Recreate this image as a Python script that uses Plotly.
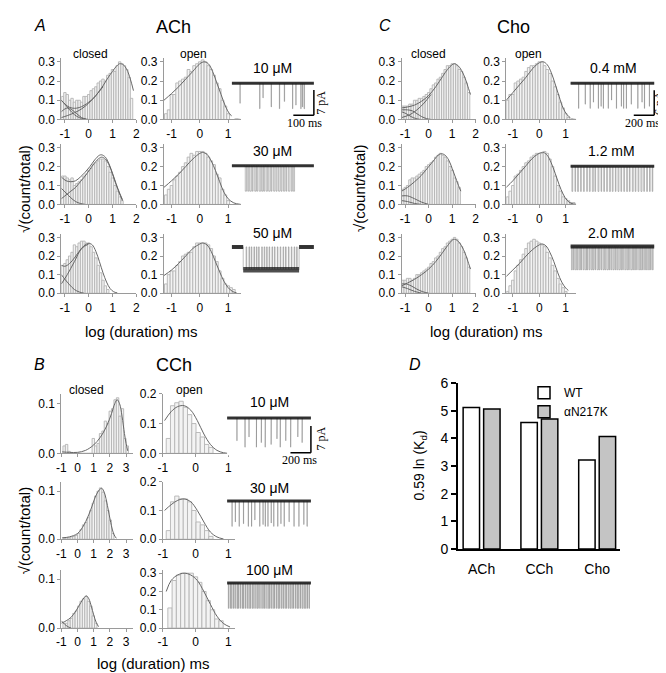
import plotly.graph_objects as go

W, H = 666, 673
SANS = "Liberation Sans"
SERIF = "Liberation Serif"

# ============================ DATA ============================
# Dwell-time histograms: sqrt(count/total) per log10(duration/ms) bin
A_CLOSED_BIN0, A_CLOSED_BW = -1.15, 0.1
A_OPEN_BIN0, A_OPEN_BW = -1.25, 0.1
C_CLOSED_BIN0, C_CLOSED_BW = -1.15, 0.1
C_OPEN_BIN0, C_OPEN_BW = -1.25, 0.1
B_CLOSED_BIN0, B_CLOSED_BW = -0.9, 0.15
B_OPEN_BIN0, B_OPEN_BW = -0.9, 0.13
B3_OPEN_BIN0 = -0.85

# ---- Panel A: ACh ----
ACh10_closed = [0.12, 0.14, 0.13, 0.10, 0.11, 0.09, 0.10, 0.10, 0.09, 0.12, 0.12, 0.13, 0.15, 0.16, 0.17,
                0.19, 0.20, 0.21, 0.20, 0.23, 0.24, 0.26, 0.25, 0.28, 0.30, 0.29, 0.28, 0.26, 0.22, 0.11]
ACh10_open = [0.03, 0.05, 0.13, 0.13, 0.19, 0.20, 0.21, 0.22, 0.26, 0.25, 0.28, 0.29, 0.30, 0.31, 0.30,
              0.28, 0.26, 0.23, 0.19, 0.16, 0.10, 0.07, 0.03]
ACh30_closed = [0.15, 0.15, 0.14, 0.13, 0.14, 0.10, 0.11, 0.12, 0.13, 0.15, 0.16, 0.18, 0.19, 0.21, 0.22,
                0.23, 0.24, 0.24, 0.23, 0.20, 0.17, 0.14, 0.10, 0.07, 0.04, 0.02]
ACh30_open = [0.05, 0.08, 0.10, 0.13, 0.15, 0.17, 0.20, 0.22, 0.25, 0.27, 0.26, 0.28, 0.28, 0.28, 0.27,
              0.25, 0.23, 0.21, 0.16, 0.14, 0.08, 0.05, 0.02]
ACh50_closed = [0.15, 0.16, 0.18, 0.20, 0.22, 0.26, 0.25, 0.27, 0.28, 0.28, 0.27, 0.27, 0.25, 0.22, 0.19,
                0.15, 0.11, 0.07, 0.04, 0.02]
ACh50_open = [0.05, 0.10, 0.12, 0.12, 0.15, 0.17, 0.20, 0.21, 0.22, 0.22, 0.25, 0.27, 0.27, 0.27, 0.27,
              0.26, 0.24, 0.20, 0.17, 0.12, 0.08, 0.05, 0.04, 0.03, 0.02]

ACh10_closed_fits = [
    ([-1.15, -1.0, -0.8, -0.6, -0.4, -0.2, 0, 0.2, 0.4, 0.6, 0.8, 1.0, 1.15, 1.3, 1.45, 1.6, 1.75, 1.88],
     [0.10, 0.08, 0.063, 0.058, 0.062, 0.073, 0.09, 0.11, 0.14, 0.175, 0.215, 0.25, 0.275, 0.29, 0.285, 0.26, 0.21, 0.15]),
    ([-1.15, -1.0, -0.8, -0.6, -0.4, -0.2, 0], [0.10, 0.08, 0.05, 0.025, 0.01, 0.003, 0.0]),
    ([-1.15, -1.0, -0.85, -0.7, -0.5, -0.3, -0.1], [0.04, 0.055, 0.06, 0.05, 0.03, 0.01, 0.002]),
    ([-1.15, -0.9, -0.6, -0.3, 0, 0.3, 0.6], [0.01, 0.02, 0.035, 0.055, 0.085, 0.125, 0.17]),
]
ACh10_open_fits = [
    ([-1.27, -1.0, -0.75, -0.5, -0.25, 0, 0.15, 0.3, 0.45, 0.6, 0.75, 0.9, 1.05, 1.2, 1.45],
     [0.10, 0.135, 0.17, 0.21, 0.25, 0.29, 0.30, 0.29, 0.25, 0.19, 0.13, 0.07, 0.03, 0.01, 0.0]),
]
ACh30_closed_fits = [
    ([-1.15, -0.95, -0.75, -0.55, -0.35, -0.15, 0.05, 0.25, 0.45, 0.55, 0.7, 0.85, 1.0, 1.15, 1.3, 1.42],
     [0.145, 0.125, 0.12, 0.125, 0.145, 0.17, 0.20, 0.235, 0.26, 0.262, 0.25, 0.215, 0.165, 0.11, 0.06, 0.025]),
    ([-1.15, -0.95, -0.75, -0.55, -0.35, -0.15, 0.05, 0.25, 0.45, 0.55, 0.7, 0.85, 1.0, 1.15, 1.3, 1.42],
     [0.03, 0.05, 0.07, 0.09, 0.12, 0.15, 0.185, 0.22, 0.245, 0.25, 0.24, 0.21, 0.16, 0.105, 0.055, 0.02]),
    ([-1.15, -0.95, -0.75, -0.55, -0.35, -0.15], [0.085, 0.06, 0.035, 0.015, 0.005, 0.0]),
]
ACh30_open_fits = [
    ([-1.27, -1.0, -0.75, -0.5, -0.25, 0, 0.1, 0.25, 0.4, 0.55, 0.7, 0.85, 1.0, 1.2, 1.45],
     [0.09, 0.125, 0.16, 0.20, 0.24, 0.27, 0.275, 0.265, 0.23, 0.18, 0.12, 0.065, 0.03, 0.008, 0.0]),
]
ACh50_closed_fits = [
    ([-1.15, -1.0, -0.8, -0.6, -0.4, -0.2, 0, 0.15, 0.3, 0.45, 0.6, 0.75, 0.9, 1.05, 1.2],
     [0.15, 0.145, 0.16, 0.19, 0.225, 0.255, 0.268, 0.26, 0.225, 0.17, 0.11, 0.06, 0.025, 0.008, 0.002]),
    ([-1.15, -1.0, -0.8, -0.6, -0.4, -0.2], [0.10, 0.075, 0.045, 0.02, 0.007, 0.0]),
    ([-1.15, -0.9, -0.6, -0.3, 0], [0.05, 0.10, 0.17, 0.24, 0.265]),
]
ACh50_open_fits = [
    ([-1.27, -1.0, -0.75, -0.5, -0.25, 0, 0.1, 0.25, 0.4, 0.55, 0.7, 0.85, 1.0, 1.15, 1.3],
     [0.095, 0.125, 0.16, 0.20, 0.24, 0.265, 0.27, 0.26, 0.225, 0.17, 0.115, 0.065, 0.03, 0.01, 0.002]),
]

# ---- Panel C: Cho ----
Cho04_closed = [0.07, 0.07, 0.07, 0.08, 0.08, 0.10, 0.10, 0.11, 0.11, 0.12, 0.13, 0.14, 0.16, 0.18, 0.19,
                0.21, 0.22, 0.24, 0.26, 0.28, 0.28, 0.29, 0.29, 0.28, 0.26, 0.25, 0.22, 0.19, 0.14]
Cho04_open = [0.10, 0.13, 0.13, 0.19, 0.20, 0.21, 0.22, 0.25, 0.27, 0.28, 0.28, 0.29, 0.30, 0.30, 0.28,
              0.26, 0.24, 0.20, 0.17, 0.13, 0.09, 0.06, 0.03, 0.01]
Cho12_closed = [0.08, 0.09, 0.10, 0.13, 0.14, 0.14, 0.15, 0.16, 0.17, 0.18, 0.20, 0.21, 0.22, 0.23, 0.25,
                0.26, 0.27, 0.26, 0.25, 0.23, 0.20, 0.18, 0.14, 0.12, 0.09]
Cho12_open = [0.04, 0.07, 0.10, 0.15, 0.16, 0.18, 0.20, 0.22, 0.23, 0.25, 0.26, 0.27, 0.27, 0.27, 0.28,
              0.27, 0.24, 0.20, 0.15, 0.10, 0.07, 0.04, 0.03, 0.02, 0.01, 0.01]
Cho20_closed = [0.07, 0.07, 0.08, 0.08, 0.07, 0.08, 0.10, 0.10, 0.11, 0.12, 0.13, 0.14, 0.16, 0.17, 0.19,
                0.20, 0.22, 0.24, 0.25, 0.27, 0.28, 0.29, 0.30, 0.29, 0.27, 0.25, 0.22, 0.19, 0.14]
Cho20_open = [0.01, 0.04, 0.07, 0.12, 0.15, 0.18, 0.21, 0.24, 0.27, 0.28, 0.29, 0.28, 0.27, 0.26, 0.25,
              0.22, 0.19, 0.15, 0.12, 0.08, 0.05, 0.03, 0.01]

Cho04_closed_fits = [
    ([-1.15, -0.9, -0.6, -0.3, 0, 0.3, 0.6, 0.8, 1.0, 1.1, 1.25, 1.4, 1.55, 1.7, 1.78],
     [0.06, 0.065, 0.075, 0.095, 0.125, 0.17, 0.225, 0.26, 0.285, 0.29, 0.28, 0.255, 0.215, 0.16, 0.13]),
    ([-1.15, -0.9, -0.7, -0.5, -0.3, -0.1, 0.1], [0.05, 0.05, 0.045, 0.03, 0.015, 0.005, 0.0]),
    ([-1.15, -0.95, -0.75, -0.55, -0.35], [0.04, 0.03, 0.015, 0.005, 0.0]),
    ([-1.15, -0.8, -0.5, -0.2, 0.1], [0.01, 0.025, 0.05, 0.085, 0.13]),
]
Cho04_open_fits = [
    ([-1.25, -1.0, -0.75, -0.5, -0.25, 0, 0.15, 0.3, 0.45, 0.6, 0.75, 0.9, 1.05, 1.2, 1.4],
     [0.10, 0.14, 0.18, 0.22, 0.265, 0.295, 0.30, 0.285, 0.245, 0.185, 0.12, 0.06, 0.025, 0.007, 0.0]),
]
Cho12_closed_fits = [
    ([-1.15, -0.9, -0.6, -0.3, 0, 0.2, 0.4, 0.55, 0.7, 0.85, 1.0, 1.15, 1.3, 1.37],
     [0.07, 0.09, 0.12, 0.155, 0.20, 0.23, 0.26, 0.268, 0.26, 0.235, 0.19, 0.14, 0.09, 0.07]),
    ([-1.15, -0.9, -0.6, -0.3, 0], [0.045, 0.045, 0.03, 0.012, 0.0]),
    ([-1.15, -0.9, -0.6, -0.3], [0.02, 0.015, 0.005, 0.0]),
]
Cho12_open_fits = [
    ([-1.25, -1.0, -0.75, -0.5, -0.25, 0, 0.15, 0.3, 0.45, 0.6, 0.75, 0.9, 1.05, 1.2, 1.4],
     [0.09, 0.125, 0.165, 0.205, 0.245, 0.27, 0.275, 0.26, 0.22, 0.165, 0.105, 0.055, 0.022, 0.006, 0.0]),
]
Cho20_closed_fits = [
    ([-1.15, -0.9, -0.6, -0.3, 0, 0.3, 0.6, 0.8, 1.0, 1.1, 1.25, 1.4, 1.55, 1.7, 1.78],
     [0.04, 0.055, 0.075, 0.10, 0.13, 0.17, 0.22, 0.255, 0.285, 0.29, 0.28, 0.255, 0.215, 0.16, 0.13]),
    ([-1.15, -0.95, -0.75, -0.5, -0.25, 0], [0.05, 0.05, 0.04, 0.022, 0.008, 0.0]),
    ([-1.15, -0.9, -0.6, -0.3], [0.035, 0.025, 0.01, 0.0]),
]
Cho20_open_fits = [
    ([-1.25, -1.0, -0.75, -0.5, -0.25, 0, 0.1, 0.25, 0.4, 0.55, 0.7, 0.85, 1.0, 1.1],
     [0.09, 0.125, 0.16, 0.20, 0.235, 0.26, 0.265, 0.255, 0.22, 0.17, 0.11, 0.06, 0.028, 0.015]),
]

# ---- Panel B: CCh ----
CCh10_closed = [0.015, 0.018, 0.004, 0, 0, 0, 0, 0, 0, 0, 0, 0, 0.03, 0.015, 0.02, 0.04, 0.045, 0.065,
                0.06, 0.085, 0.09, 0.108, 0.112, 0.075, 0.09, 0.03, 0.015]
CCh10_open = [0.05, 0.16, 0.17, 0.175, 0.155, 0.13, 0.10, 0.07, 0.055, 0.03, 0.02]
CCh30_closed = [0.002, 0.003, 0.003, 0.005, 0.006, 0.008, 0.012, 0.02, 0.03, 0.035, 0.045, 0.06, 0.075,
                0.09, 0.10, 0.107, 0.098, 0.08, 0.06, 0.04, 0.012]
CCh30_open = [0.03, 0.13, 0.15, 0.14, 0.14, 0.13, 0.10, 0.06, 0.05, 0.03, 0.01]
CCh100_closed = [0.01, 0.01, 0.015, 0.02, 0.03, 0.035, 0.045, 0.055, 0.06, 0.065, 0.055, 0.045, 0.025, 0.01]
CCh100_open = [0.11, 0.26, 0.29, 0.30, 0.30, 0.30, 0.28, 0.25, 0.20, 0.15, 0.10, 0.05, 0.04]

CCh10_closed_fits = [
    ([-0.95, -0.5, 0, 0.5, 1.0, 1.4, 1.8, 2.1, 2.3, 2.45, 2.6, 2.75, 2.9, 3.0, 3.1],
     [0.003, 0.002, 0.002, 0.006, 0.017, 0.032, 0.055, 0.08, 0.10, 0.108, 0.10, 0.075, 0.04, 0.02, 0.005]),
]
CCh10_open_fits = [
    ([-0.95, -0.75, -0.55, -0.35, -0.15, 0.05, 0.25, 0.45, 0.65, 0.85, 1.05],
     [0.11, 0.14, 0.157, 0.16, 0.145, 0.11, 0.065, 0.03, 0.01, 0.002, 0.0]),
]
CCh30_closed_fits = [
    ([-0.95, -0.5, 0, 0.4, 0.8, 1.1, 1.35, 1.5, 1.65, 1.85, 2.05, 2.25, 2.4],
     [0.003, 0.005, 0.012, 0.03, 0.06, 0.088, 0.103, 0.106, 0.098, 0.07, 0.035, 0.01, 0.002]),
]
CCh30_open_fits = [
    ([-0.95, -0.75, -0.55, -0.35, -0.15, 0.05, 0.25, 0.45, 0.65, 0.85],
     [0.10, 0.12, 0.135, 0.14, 0.13, 0.10, 0.06, 0.025, 0.008, 0.001]),
]
CCh100_closed_fits = [
    ([-1.0, -0.7, -0.4, -0.1, 0.2, 0.4, 0.55, 0.7, 0.85, 1.0, 1.15, 1.3],
     [0.01, 0.015, 0.022, 0.035, 0.052, 0.062, 0.066, 0.06, 0.045, 0.027, 0.012, 0.003]),
    ([-1.0, -0.8, -0.6, -0.4], [0.015, 0.008, 0.003, 0.0]),
]
CCh100_open_fits = [
    ([-0.9, -0.75, -0.55, -0.35, -0.15, 0.05, 0.25, 0.45, 0.65, 0.85, 1.05],
     [0.20, 0.26, 0.29, 0.30, 0.29, 0.26, 0.20, 0.13, 0.065, 0.025, 0.006]),
]

# ---- Single-channel records: opening start (ms), duration (ms), depth (pA) ----
ACh10_T, ACh10_amp = 400, 7.0
ACh10_starts = [40, 136, 152, 192, 232, 256, 296, 312, 336, 344, 352]
ACh10_durs = [1.5, 1.5, 1.5, 1.5, 1.5, 1.5, 1.5, 1.5, 2.0, 1.5, 2.5]
ACh10_depths = [5.5, 7.0, 4.0, 6.5, 7.0, 5.0, 7.0, 6.0, 7.0, 6.5, 7.0]
ACh30_T, ACh30_amp = 400, 7.0
ACh30_starts = [66, 78, 88, 100, 112, 122, 134, 146, 156, 168, 180, 192, 204, 216, 228, 240, 252, 264, 276, 290, 300]
ACh30_durs = [6, 5, 7, 4, 6, 5, 7, 6, 5, 6, 7, 4, 6, 5, 7, 5, 6, 4, 7, 5, 6]
ACh50_T, ACh50_amp = 400, 6.3
ACh50_starts = [56, 73, 87, 98, 111, 123, 134, 149, 161, 173, 185, 199, 211, 225, 239, 253, 265, 279, 293, 307, 319]
ACh50_durs = [14, 11, 8, 10, 9, 8, 12, 9, 9, 9, 11, 9, 11, 11, 11, 9, 11, 11, 11, 9, 9]
ACh50_closed_periods = [(0, 56), (328, 400)]
ACh50_burst = [(56, 328)]

CCh10_T, CCh10_amp = 820, 7.7
CCh10_starts = [96, 175, 214, 287, 335, 373, 431, 488, 520, 574, 622, 692, 734]
CCh10_durs = [1.5, 1.5, 1.5, 1.5, 1.5, 1.5, 1.5, 1.5, 1.5, 1.5, 1.5, 1.5, 1.5]
CCh10_depths = [6.0, 7.7, 5.0, 7.7, 6.5, 7.7, 7.0, 5.5, 7.7, 6.0, 7.7, 5.0, 6.5]
CCh30_T, CCh30_amp = 820, 6.7
CCh30_starts = [48, 80, 118, 160, 207, 239, 271, 319, 351, 373, 399, 431, 456, 495, 526, 558, 606, 654, 702, 750, 782]
CCh30_durs = [2, 2, 2, 2, 2, 2, 2, 2, 2, 2, 2, 2, 2, 2, 2, 2, 2, 2, 2, 2, 2]
CCh30_depths = [6.7, 5.5, 6.7, 6.0, 6.7, 6.7, 5.0, 6.7, 6.2, 6.7, 6.7, 5.8, 6.7, 6.7, 6.0, 6.7, 5.5, 6.7,
                6.7, 6.2, 6.7]
CCh100_T, CCh100_amp = 820, 6.7
CCh100_starts = [12, 30, 44, 62, 78, 96, 110, 128, 146, 160, 178, 196, 212, 228, 246, 262, 280, 296, 312, 330,
                 348, 362, 380, 398, 414, 430, 448, 464, 482, 498, 514, 532, 548, 566, 582, 600, 616, 634, 650,
                 668, 684, 700, 718, 734, 752, 768, 786, 802]
CCh100_durs = [4, 3, 5, 4, 3, 6, 4, 3, 5, 4, 4, 3, 6, 4, 5, 3, 4, 6, 3, 4, 5, 4, 3, 6, 4, 4, 5, 3, 4, 6,
               3, 5, 4, 4, 3, 5, 6, 4, 3, 4, 5, 4, 3, 6, 4, 5, 3, 4]

Cho04_T, Cho04_amp = 820, 6.0
Cho04_starts = [80, 145, 193, 225, 273, 300, 322, 370, 402, 450, 498, 520, 547, 595, 659, 700, 724, 772]
Cho04_durs = [2, 2, 2, 2, 2, 2, 2, 2, 2, 2, 2, 2, 2, 2, 2, 2, 2, 2]
Cho04_depths = [6.0, 5.0, 6.0, 4.5, 6.0, 5.5, 6.0, 6.0, 4.0, 6.0, 5.5, 6.0, 6.0, 5.0, 6.0, 4.5, 6.0, 5.5]
Cho12_T, Cho12_amp = 820, 6.0
Cho12_starts = [15, 45, 70, 100, 128, 160, 186, 215, 240, 270, 300, 326, 355, 382, 410, 440, 466, 494, 522,
                550, 578, 606, 634, 662, 690, 718, 746, 774, 800]
Cho12_durs = [8, 6, 10, 7, 9, 6, 8, 10, 7, 9, 6, 8, 7, 10, 8, 6, 9, 7, 8, 10, 6, 9, 7, 8, 10, 6, 8, 7, 6]
Cho20_T, Cho20_amp = 820, 5.6
Cho20_starts = [10, 30, 48, 68, 88, 106, 126, 146, 164, 184, 204, 222, 242, 262, 280, 300, 320, 338, 358, 378,
                396, 416, 436, 454, 474, 494, 512, 532, 552, 570, 590, 610, 628, 648, 668, 686, 706, 726, 744,
                764, 784, 802]
Cho20_durs = [9, 7, 11, 8, 10, 6, 9, 12, 7, 8, 10, 9, 6, 11, 8, 7, 10, 9, 12, 6, 8, 10, 7, 9, 11, 8, 6, 10,
              9, 7, 12, 8, 9, 6, 10, 11, 7, 8, 9, 10, 6, 8]

# ---- Panel D ----
agonists = ["ACh", "CCh", "Cho"]
kd_WT = [5.12, 4.57, 3.22]
kd_mut = [5.06, 4.70, 4.07]

# ============================ BUILD ============================
fig = go.Figure()
layout = {}
shapes = []
annotations = []
axis_n = [0]


def new_axes(x0, x1, y0, y1, xr, yr, xo=None, yo=None):
    axis_n[0] += 1
    n = axis_n[0]
    sx = "" if n == 1 else str(n)
    layout["xaxis" + sx] = dict(domain=[x0 / W, x1 / W], range=xr, anchor="y" + sx, **(xo or {}))
    layout["yaxis" + sx] = dict(domain=[1 - y1 / H, 1 - y0 / H], range=yr, anchor="x" + sx, **(yo or {}))
    return "x" + sx, "y" + sx


def hist_axis_style(tickvals, ticktext):
    return dict(showline=True, linecolor="#9a9a9a", linewidth=1, ticks="outside", ticklen=3,
                tickcolor="#9a9a9a", tickvals=tickvals, ticktext=ticktext, showgrid=False, zeroline=False,
                tickfont=dict(family=SANS, size=12, color="black"), fixedrange=True)


def add_hist(box, xr, yr, xt, yt, bin0, bw, heights, fits):
    x0, x1, y0, y1 = box
    xo = hist_axis_style(xt, [str(v) for v in xt])
    yo = hist_axis_style(yt, ["%.1f" % v for v in yt])
    xa, ya = new_axes(x0, x1, y0, y1, xr, yr, xo, yo)
    centers = [bin0 + bw * (i + 0.5) for i in range(len(heights))]
    fig.add_trace(go.Bar(x=centers, y=heights, width=bw, xaxis=xa, yaxis=ya, showlegend=False,
                         marker=dict(color="#f3f3f3", line=dict(color="#b4b4b4", width=0.9)),
                         hoverinfo="skip"))
    for fx, fy in fits:
        fig.add_trace(go.Scatter(x=fx, y=fy, mode="lines", xaxis=xa, yaxis=ya, showlegend=False,
                                 line=dict(color="#666666", width=1, shape="spline"), hoverinfo="skip"))


AC_ROWS = [(43, 106), (131, 193), (223, 284)]
B_ROWS = [(387, 448), (477, 536), (567, 627)]
YT3 = [0, 0.1, 0.2, 0.3]

# Panel A
for (y0, y1), hc, fc, ho, fo in zip(AC_ROWS,
                                     [ACh10_closed, ACh30_closed, ACh50_closed],
                                     [ACh10_closed_fits, ACh30_closed_fits, ACh50_closed_fits],
                                     [ACh10_open, ACh30_open, ACh50_open],
                                     [ACh10_open_fits, ACh30_open_fits, ACh50_open_fits]):
    add_hist((49, 125, y0, y1), [-1.15, 2.0], [0, 0.32], [-1, 0, 1, 2], YT3, A_CLOSED_BIN0, A_CLOSED_BW, hc, fc)
    add_hist((153, 231, y0, y1), [-1.27, 1.45], [0, 0.32], [-1, 0, 1], YT3, A_OPEN_BIN0, A_OPEN_BW, ho, fo)

# Panel C
for (y0, y1), hc, fc, ho, fo in zip(AC_ROWS,
                                     [Cho04_closed, Cho12_closed, Cho20_closed],
                                     [Cho04_closed_fits, Cho12_closed_fits, Cho20_closed_fits],
                                     [Cho04_open, Cho12_open, Cho20_open],
                                     [Cho04_open_fits, Cho12_open_fits, Cho20_open_fits]):
    add_hist((394, 469, y0, y1), [-1.15, 2.0], [0, 0.32], [-1, 0, 1, 2], YT3, C_CLOSED_BIN0, C_CLOSED_BW, hc, fc)
    add_hist((500, 571, y0, y1), [-1.25, 1.4], [0, 0.32], [-1, 0, 1], YT3, C_OPEN_BIN0, C_OPEN_BW, ho, fo)

# Panel B
b_open_ranges = [[0, 0.2], [0, 0.2], [0, 0.32]]
b_open_ticks = [[0, 0.1, 0.2], [0, 0.1, 0.2], YT3]
b_open_bin0 = [B_OPEN_BIN0, B_OPEN_BIN0, B3_OPEN_BIN0]
for (y0, y1), hc, fc, ho, fo, orr, ot, ob in zip(B_ROWS,
                                                 [CCh10_closed, CCh30_closed, CCh100_closed],
                                                 [CCh10_closed_fits, CCh30_closed_fits, CCh100_closed_fits],
                                                 [CCh10_open, CCh30_open, CCh100_open],
                                                 [CCh10_open_fits, CCh30_open_fits, CCh100_open_fits],
                                                 b_open_ranges, b_open_ticks, b_open_bin0):
    add_hist((49, 122, y0, y1), [-1.0, 3.45], [0, 0.12], [-1, 0, 1, 2, 3], [0, 0.1],
             B_CLOSED_BIN0, B_CLOSED_BW, hc, fc)
    add_hist((152, 225, y0, y1), [-1.0, 1.2], orr, [-1, 0, 1], ot, ob, B_OPEN_BW, ho, fo)


# ---- single-channel traces ----
def add_record(x0, x1, T, base, ppp, top, bot, amp, starts, durs, depths=None,
               closed_periods=None, open_periods=None, band=3.0, scale=None):
    pad = 4
    ms_per_px = T / (x1 - x0)
    xr = [0, T + pad * ms_per_px]
    yr = [-(bot - base) / ppp, (base - top) / ppp]
    inv = dict(visible=False, fixedrange=True)
    xa, ya = new_axes(x0, x1 + pad, top, bot, xr, yr, dict(inv), dict(inv))
    if depths is None:
        depths = [amp] * len(starts)
    xs, ys = [0], [0]
    for s, d, a in zip(starts, durs, depths):
        xs += [s, s, s + d, s + d]
        ys += [0, -a, -a, 0]
    xs.append(T)
    ys.append(0)
    fig.add_trace(go.Scatter(x=xs, y=ys, mode="lines", xaxis=xa, yaxis=ya, showlegend=False,
                             line=dict(color="rgba(95,95,95,0.45)", width=0.9), hoverinfo="skip"))
    if closed_periods is None:
        closed_periods = [(0, T)]
    bx, by = [], []
    for a, b in closed_periods:
        bx += [a, b, None]
        by += [0, 0, None]
    fig.add_trace(go.Scatter(x=bx, y=by, mode="lines", xaxis=xa, yaxis=ya, showlegend=False,
                             line=dict(color="rgba(20,20,20,0.85)", width=band), hoverinfo="skip"))
    if open_periods:
        ox, oy = [], []
        for a, b in open_periods:
            ox += [a, b, None]
            oy += [-amp, -amp, None]
        fig.add_trace(go.Scatter(x=ox, y=oy, mode="lines", xaxis=xa, yaxis=ya, showlegend=False,
                                 line=dict(color="rgba(20,20,20,0.75)", width=band + 1.5), hoverinfo="skip"))
    if scale:
        bar_ms, bar_pA, bar_bottom = scale
        shapes.append(dict(type="line", xref=xa, yref=ya, x0=T - bar_ms, x1=T, y0=bar_bottom, y1=bar_bottom,
                           line=dict(color="black", width=1.5)))
        shapes.append(dict(type="line", xref=xa, yref=ya, x0=T, x1=T, y0=bar_bottom, y1=bar_bottom + bar_pA,
                           line=dict(color="black", width=1.5)))


# Panel A records
add_record(221.7, 305, ACh10_T, 69, 3.71, 62, 105, ACh10_amp, ACh10_starts, ACh10_durs, ACh10_depths,
           scale=(100, 7, -(101.7 - 69) / 3.71))
add_record(221.7, 305, ACh30_T, 153.5, 3.71, 146, 184, ACh30_amp, ACh30_starts, ACh30_durs)
add_record(221.7, 305, ACh50_T, 236.5, 3.71, 229, 266, ACh50_amp, ACh50_starts, ACh50_durs,
           closed_periods=ACh50_closed_periods, open_periods=ACh50_burst, band=4.0)
# Panel C records
add_record(565, 650, Cho04_T, 69, 4.28, 62, 105, Cho04_amp, Cho04_starts, Cho04_durs, Cho04_depths,
           scale=(200, 6, -(101.7 - 69) / 4.28))
add_record(565, 650, Cho12_T, 154, 4.28, 147, 184, Cho12_amp, Cho12_starts, Cho12_durs)
add_record(565, 650, Cho20_T, 236, 4.28, 229, 266, Cho20_amp, Cho20_starts, Cho20_durs, band=4.0)
# Panel B records
add_record(217, 302, CCh10_T, 411.7, 3.9, 405, 450, CCh10_amp, CCh10_starts, CCh10_durs, CCh10_depths,
           scale=(200, 7, -(447.3 - 411.7) / 3.9))
add_record(217, 302, CCh30_T, 496.7, 3.9, 490, 528, CCh30_amp, CCh30_starts, CCh30_durs, CCh30_depths)
add_record(217, 302, CCh100_T, 580.7, 3.9, 574, 612, CCh100_amp, CCh100_starts, CCh100_durs)

# ---- Panel D bar chart ----
cat_pos = list(range(len(agonists)))
xa, ya = new_axes(451, 615, 376, 546, [-0.41, 2.39], [0, 6],
                  dict(type="linear", showline=True, linecolor="black", linewidth=1.5, ticks="",
                       tickvals=cat_pos, ticktext=agonists,
                       showgrid=False, zeroline=False, ticklabelstandoff=6,
                       tickfont=dict(family=SANS, size=14, color="black"), fixedrange=True),
                  dict(showline=True, linecolor="black", linewidth=1.5, ticks="outside", ticklen=5,
                       tickwidth=1.5, tickcolor="black", dtick=1, showgrid=False, zeroline=False,
                       tickfont=dict(family=SANS, size=14, color="black"), fixedrange=True))
fig.add_trace(go.Bar(x=cat_pos, y=kd_WT, name="WT", xaxis=xa, yaxis=ya,
                     marker=dict(color="white", line=dict(color="black", width=1.5))))
fig.add_trace(go.Bar(x=cat_pos, y=kd_mut, name="αN217K", xaxis=xa, yaxis=ya,
                     marker=dict(color="#c4c4c4", line=dict(color="black", width=1.5))))


# ---- text ----
def ann(text, x, y, size, family=SANS, **kw):
    d = dict(text=text, x=x / W, y=1 - y / H, xref="paper", yref="paper", showarrow=False,
             font=dict(family=family, size=size, color="black"), xanchor="center", yanchor="middle")
    d.update(kw)
    annotations.append(d)


ann("<i>A</i>", 27, 10, 16)
ann("ACh", 163, 11, 18)
ann("<i>C</i>", 377, 10, 16)
ann("Cho", 507, 11, 18)
ann("<i>B</i>", 27, 357, 16)
ann("CCh", 163, 357, 18)
ann("<i>D</i>", 407, 357, 16)

for x, t in [(79, "closed"), (183, "open"), (421, "closed"), (523, "open")]:
    ann(t, x, 39, 12)
ann("closed", 75, 383, 12)
ann("open", 179, 383, 12)

for t, x, y in [("10 μM", 263, 53), ("30 μM", 263, 138), ("50 μM", 263, 222),
                ("0.4 mM", 609, 53), ("1.2 mM", 607, 138), ("2.0 mM", 607, 222),
                ("10 μM", 260, 395), ("30 μM", 260, 483), ("100 μM", 260, 567)]:
    ann(t, x, y, 14)

ann("√(count/total)", 12, 177, 15, textangle=-90)
ann("√(count/total)", 352, 177, 15, textangle=-90)
ann("√(count/total)", 12, 527, 15, textangle=-90)
ann("log (duration) ms", 130, 323, 15)
ann("log (duration) ms", 480, 323, 15)
ann("log (duration) ms", 142, 663, 15)

ann("7 pA", 312, 89, 12, family=SERIF, textangle=-90)
ann("100 ms", 295, 110, 12, family=SERIF)
ann("6 pA", 655, 89, 12, family=SERIF, textangle=-90)
ann("200 ms", 638, 110, 12, family=SERIF)
ann("7 pA", 312, 433, 12, family=SERIF, textangle=-90)
ann("200 ms", 290, 455, 12, family=SERIF)

ann("0.59 ln (K<sub>d</sub>)", 413, 460, 14, textangle=-90)

fig.update_layout(
    **layout,
    width=W, height=H,
    margin=dict(l=0, r=0, t=0, b=0),
    paper_bgcolor="white", plot_bgcolor="white",
    barmode="group", bargap=0.29, bargroupgap=0.2,
    showlegend=True,
    legend=dict(x=518 / W, y=1 - 371 / H, xanchor="left", yanchor="top", bgcolor="rgba(0,0,0,0)",
                font=dict(family=SANS, size=12, color="black"), tracegroupgap=0, itemwidth=30),
    shapes=shapes,
    annotations=annotations,
    font=dict(family=SANS, color="black"),
)

fig.write_html("out.html")
